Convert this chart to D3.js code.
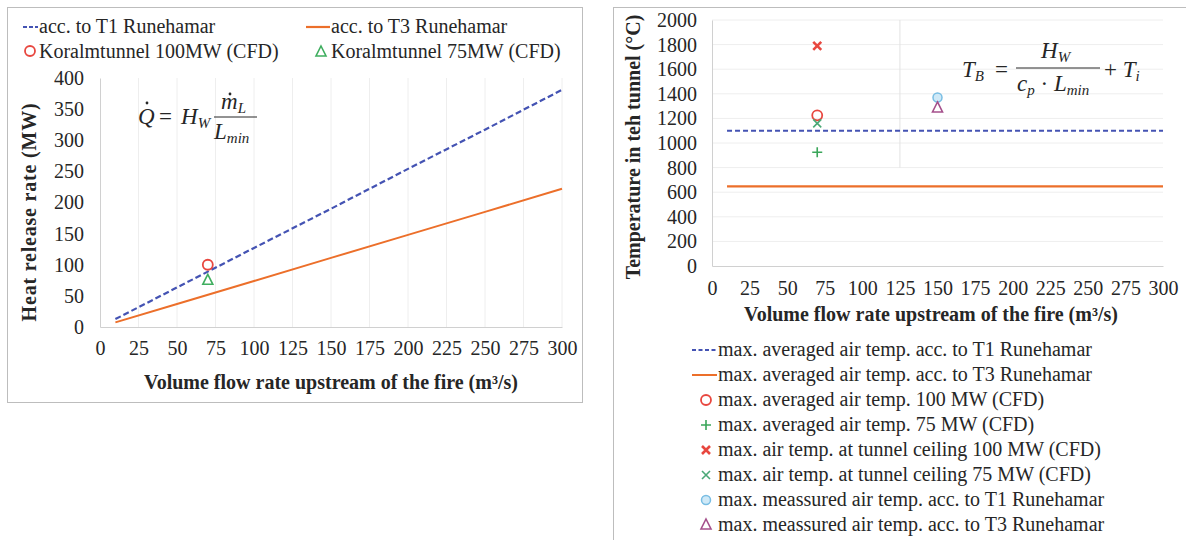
<!DOCTYPE html>
<html>
<head>
<meta charset="utf-8">
<script src="https://cdn.jsdelivr.net/npm/d3@7"></script>
<style>
  body { margin: 0; background: #fff; }
  svg { display: block; }
  svg text { font-family: "Liberation Serif", "Times New Roman", serif; }
</style>
</head>
<body>
<div id="chart"></div>
<script>
// ---- data ----
var xTickVals = [0, 25, 50, 75, 100, 125, 150, 175, 200, 225, 250, 275, 300];
var hrrTickVals = [0, 50, 100, 150, 200, 250, 300, 350, 400];
var tempTickVals = [0, 200, 400, 600, 800, 1000, 1200, 1400, 1600, 1800, 2000];

// left chart: heat release rate vs flow
var flowQ = [10, 50, 100, 150, 200, 250, 300];
var hrrT1 = [12.7, 63.5, 127, 190, 254, 317, 381];
var hrrT3 = [7.4, 37, 74, 111, 148, 185, 222];
var cfdFlow = 70;
var cfd100MW = 100;
var cfd75MW = 75;
var leftLegend = ["acc. to T1 Runehamar", "acc. to T3 Runehamar",
                  "Koralmtunnel 100MW (CFD)", "Koralmtunnel 75MW (CFD)"];

// right chart: temperature vs flow
var tempFlow = [10, 300];
var tempT1 = [1100, 1100];
var tempT3 = [648, 648];
var tempPointX = [70, 70, 70, 70, 150, 150];
var tempPointY = [1225, 925, 1790, 1160, 1370, 1285];
var tempPointShape = ["circle", "plus", "times", "star", "dot", "triangle"];
var tempPointColor = ["#e8473f", "#3aa65a", "#e8473f", "#4aa877", "#78bde3", "#a5508c"];
var rightLegend = [
  "max. averaged air temp. acc. to T1 Runehamar",
  "max. averaged air temp. acc. to T3 Runehamar",
  "max. averaged air temp. 100 MW (CFD)",
  "max. averaged air temp. 75 MW (CFD)",
  "max. air temp. at tunnel ceiling 100 MW (CFD)",
  "max. air temp. at tunnel ceiling 75 MW (CFD)",
  "max. meassured air temp. acc. to T1 Runehamar",
  "max. meassured air temp. acc. to T3 Runehamar"
];

var blue = "#4453b3", orange = "#ec6f2a", textCol = "#262626", gridCol = "#eeeeee", axisCol = "#d0d0d0";
var serif = "Liberation Serif";

var svg = d3.select("#chart").append("svg")
    .attr("width", 1186)
    .attr("height", 540);

// panel frames
svg.append("rect").attr("x", 7.5).attr("y", 7.5).attr("width", 575).attr("height", 395)
    .attr("fill", "#fff").attr("stroke", "#bdbdbd");
svg.append("rect").attr("x", 613.5).attr("y", 7.5).attr("width", 580).attr("height", 540)
    .attr("fill", "#fff").attr("stroke", "#bdbdbd");

function marker(g, shape, x, y, color) {
    var s = 5;
    if (shape == "circle") {
        g.append("circle").attr("cx", x).attr("cy", y).attr("r", s)
            .attr("fill", "none").attr("stroke", color).attr("stroke-width", 1.8);
    } else if (shape == "dot") {
        g.append("circle").attr("cx", x).attr("cy", y).attr("r", s - 0.5)
            .attr("fill", "#cfe9f7").attr("stroke", color).attr("stroke-width", 1.5);
    } else if (shape == "triangle") {
        g.append("path")
            .attr("d", "M" + x + "," + (y - s - 1) + "L" + (x + s) + "," + (y + s - 1) + "L" + (x - s) + "," + (y + s - 1) + "Z")
            .attr("fill", "none").attr("stroke", color).attr("stroke-width", 1.6);
    } else if (shape == "plus") {
        g.append("path")
            .attr("d", "M" + (x - s) + "," + y + "H" + (x + s) + "M" + x + "," + (y - s) + "V" + (y + s))
            .attr("stroke", color).attr("stroke-width", 1.6);
    } else if (shape == "times") {
        g.append("path")
            .attr("d", "M" + (x - 4) + "," + (y - 4) + "L" + (x + 4) + "," + (y + 4) + "M" + (x + 4) + "," + (y - 4) + "L" + (x - 4) + "," + (y + 4))
            .attr("stroke", color).attr("stroke-width", 2.6);
    } else if (shape == "star") {
        g.append("path")
            .attr("d", "M" + (x - 4) + "," + (y - 4) + "L" + (x + 4) + "," + (y + 4) + "M" + (x + 4) + "," + (y - 4) + "L" + (x - 4) + "," + (y + 4))
            .attr("stroke", color).attr("stroke-width", 1.6);
    }
}

function styleAxis(a) {
    a.attr("font-family", serif);
    a.select(".domain").attr("stroke", axisCol);
    a.selectAll("text").attr("fill", textCol).style("font-size", "20px");
}

// ================= left chart =================
var xL = d3.scaleLinear().domain([0, 300]).range([100, 562]);
var yL = d3.scaleLinear().domain([0, 400]).range([327, 78]);
var left = svg.append("g");

left.append("g").selectAll("line").data(xTickVals.slice(1)).enter().append("line")
    .attr("x1", function (d) { return xL(d); }).attr("x2", function (d) { return xL(d); })
    .attr("y1", yL(400)).attr("y2", yL(0))
    .attr("stroke", gridCol).attr("stroke-width", 1);

var axLx = left.append("g").attr("transform", "translate(0," + yL(0) + ")")
    .call(d3.axisBottom(xL).tickValues(xTickVals).tickFormat(d3.format("d")).tickSize(0).tickPadding(14));
var axLy = left.append("g").attr("transform", "translate(" + xL(0) + ",0)")
    .call(d3.axisLeft(yL).tickValues(hrrTickVals).tickFormat(d3.format("d")).tickSize(0).tickPadding(16));
styleAxis(axLx);
styleAxis(axLy);

var lineL = d3.line()
    .x(function (d, i) { return xL(flowQ[i]); });
left.append("path").datum(hrrT1)
    .attr("d", lineL.y(function (d) { return yL(d); }))
    .attr("fill", "none").attr("stroke", blue).attr("stroke-width", 2.2)
    .attr("stroke-dasharray", "6,3");
left.append("path").datum(hrrT3)
    .attr("d", lineL.y(function (d) { return yL(d); }))
    .attr("fill", "none").attr("stroke", orange).attr("stroke-width", 2);

marker(left, "circle", xL(cfdFlow), yL(cfd100MW), "#e8473f");
marker(left, "triangle", xL(cfdFlow), yL(cfd75MW), "#3fae5f");

left.append("text").attr("x", 331).attr("y", 389).attr("text-anchor", "middle")
    .attr("font-weight", "bold").attr("font-size", 20).attr("fill", textCol)
    .text("Volume flow rate upstream of  the fire (m³/s)");
left.append("text").attr("transform", "translate(36,212) rotate(-90)").attr("text-anchor", "middle")
    .attr("font-weight", "bold").attr("font-size", 20).attr("fill", textCol)
    .attr("letter-spacing", 0.8)
    .text("Heat release rate (MW)");

// legend (left)
var lg = left.append("g").attr("font-size", 20).attr("fill", textCol);
lg.append("line").attr("x1", 23).attr("x2", 38).attr("y1", 27).attr("y2", 27)
    .attr("stroke", blue).attr("stroke-width", 2).attr("stroke-dasharray", "4,2");
lg.append("text").attr("x", 39).attr("y", 33).text(leftLegend[0]);
lg.append("line").attr("x1", 306).attr("x2", 330).attr("y1", 27).attr("y2", 27)
    .attr("stroke", orange).attr("stroke-width", 2.2);
lg.append("text").attr("x", 331).attr("y", 33).text(leftLegend[1]);
marker(lg, "circle", 30, 51, "#e8473f");
lg.append("text").attr("x", 39).attr("y", 58).text(leftLegend[2]);
marker(lg, "triangle", 321, 52, "#3fae5f");
lg.append("text").attr("x", 331).attr("y", 58).text(leftLegend[3]);

// formula (left)
var fL = left.append("g").attr("font-style", "italic")
    .attr("fill", textCol).attr("font-size", 23);
fL.append("text").attr("x", 138).attr("y", 124).text("Q");
fL.append("circle").attr("cx", 147).attr("cy", 103).attr("r", 1.4).attr("fill", textCol);
fL.append("text").attr("x", 159).attr("y", 124).attr("font-style", "normal").text("=");
fL.append("text").attr("x", 181).attr("y", 124).html('H<tspan font-size="15" dy="4">W</tspan>');
fL.append("line").attr("x1", 214).attr("x2", 257).attr("y1", 117).attr("y2", 117).attr("stroke", textCol).attr("stroke-width", 1);
fL.append("text").attr("x", 221).attr("y", 109).html('m<tspan font-size="15" dy="4">L</tspan>');
fL.append("circle").attr("cx", 230).attr("cy", 94).attr("r", 1.4).attr("fill", textCol);
fL.append("text").attr("x", 214).attr("y", 139).html('L<tspan font-size="15" dy="4">min</tspan>');

// ================= right chart =================
var xR = d3.scaleLinear().domain([0, 300]).range([712, 1163]);
var yR = d3.scaleLinear().domain([0, 2000]).range([266, 20]);
var right = svg.append("g");

right.append("g").selectAll("line").data(tempTickVals.slice(1)).enter().append("line")
    .attr("x1", xR(0)).attr("x2", xR(300))
    .attr("y1", function (d) { return yR(d); }).attr("y2", function (d) { return yR(d); })
    .attr("stroke", gridCol).attr("stroke-width", 1);
right.append("line").attr("x1", xR(125)).attr("x2", xR(125)).attr("y1", yR(2000)).attr("y2", yR(800))
    .attr("stroke", "#e2e2e2");

var axRx = right.append("g").attr("transform", "translate(0," + yR(0) + ")")
    .call(d3.axisBottom(xR).tickValues(xTickVals).tickFormat(d3.format("d")).tickSize(0).tickPadding(15));
var axRy = right.append("g").attr("transform", "translate(" + xR(0) + ",0)")
    .call(d3.axisLeft(yR).tickValues(tempTickVals).tickFormat(d3.format("d")).tickSize(0).tickPadding(15));
styleAxis(axRx);
styleAxis(axRy);

var lineR = d3.line().x(function (d, i) { return xR(tempFlow[i]); }).y(function (d) { return yR(d); });
right.append("path").datum(tempT3).attr("d", lineR)
    .attr("fill", "none").attr("stroke", orange).attr("stroke-width", 2.2);
right.append("path").datum(tempT1).attr("d", lineR)
    .attr("fill", "none").attr("stroke", blue).attr("stroke-width", 2)
    .attr("stroke-dasharray", "5,3");

tempPointX.forEach(function (x, i) {
    marker(right, tempPointShape[i], xR(x), yR(tempPointY[i]), tempPointColor[i]);
});

right.append("text").attr("x", 931).attr("y", 321).attr("text-anchor", "middle")
    .attr("font-weight", "bold").attr("font-size", 20).attr("fill", textCol)
    .text("Volume flow rate upstream of  the fire (m³/s)");
right.append("text").attr("transform", "translate(640,147) rotate(-90)").attr("text-anchor", "middle")
    .attr("font-weight", "bold").attr("font-size", 20).attr("fill", textCol)
    .text("Temperature in teh tunnel (°C)");

// legend (right)
var rg = right.append("g").attr("font-size", 20).attr("fill", textCol);
rightLegend.forEach(function (t, i) {
    var y = 350 + i * 25;
    rg.append("text").attr("x", 718).attr("y", y + 6).text(t);
    if (i == 0) {
        rg.append("line").attr("x1", 692).attr("x2", 717).attr("y1", y).attr("y2", y)
            .attr("stroke", blue).attr("stroke-width", 1.8).attr("stroke-dasharray", "4,2.5");
    } else if (i == 1) {
        rg.append("line").attr("x1", 692).attr("x2", 717).attr("y1", y).attr("y2", y)
            .attr("stroke", orange).attr("stroke-width", 2);
    } else {
        marker(rg, tempPointShape[i - 2], 706, y, tempPointColor[i - 2]);
    }
});

// formula (right)
var fR = right.append("g").attr("font-style", "italic")
    .attr("fill", textCol).attr("font-size", 23);
fR.append("text").attr("x", 962).attr("y", 77).html('T<tspan font-size="15" dy="4">B</tspan>');
fR.append("text").attr("x", 995).attr("y", 77).attr("font-style", "normal").text("=");
fR.append("line").attr("x1", 1016).attr("x2", 1100).attr("y1", 68).attr("y2", 68).attr("stroke", textCol).attr("stroke-width", 1);
fR.append("text").attr("x", 1041).attr("y", 58).html('H<tspan font-size="15" dy="4">W</tspan>');
fR.append("text").attr("x", 1017).attr("y", 91).html('c<tspan font-size="15" dy="4">p</tspan><tspan dy="-4" font-style="normal"> · </tspan>L<tspan font-size="15" dy="4">min</tspan>');
fR.append("text").attr("x", 1104).attr("y", 77).html('<tspan font-style="normal">+ </tspan>T<tspan font-size="15" dy="4">i</tspan>');
</script>
</body>
</html>
